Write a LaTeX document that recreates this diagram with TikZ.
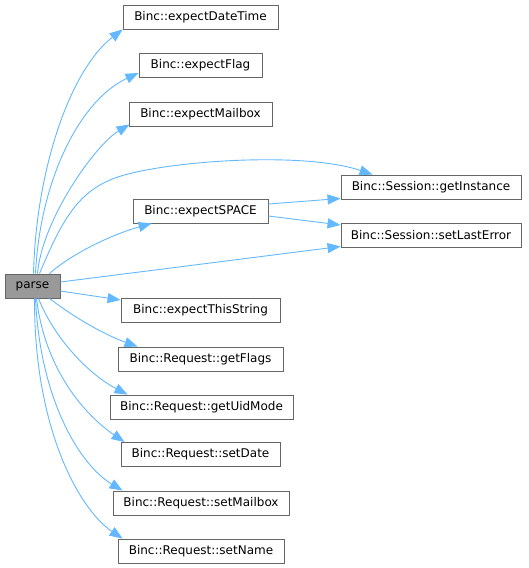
\documentclass[tikz,border=0pt]{standalone}
\usepackage{fontspec}
\setmainfont{DejaVu Sans}
\usetikzlibrary{arrows.meta,calc}
\definecolor{edgeblue}{HTML}{63B8FF}
\definecolor{boxborder}{HTML}{666666}
\definecolor{parsefill}{HTML}{999999}
\begin{document}
\begin{tikzpicture}[x=1pt,y=-1pt,
  fnbox/.style={draw=boxborder, line width=0.9pt, fill=white, inner sep=0pt,
    minimum height=24pt, font=\fontsize{12}{14}\selectfont, text=black},
  call/.style={draw=edgeblue, line width=0.9pt, -{Triangle[length=13pt,width=10pt]}, fill=none}
]
\useasboundingbox (0,0) rectangle (529,568);

\node[fnbox, fill=parsefill, minimum width=55pt] (parse) at (32.5,286) {parse};
\node[fnbox, minimum width=155pt] (edt) at (200.5,17) {Binc::expectDateTime};
\node[fnbox, minimum width=123pt] (flag) at (200.5,65) {Binc::expectFlag};
\node[fnbox, minimum width=143pt] (mbx) at (200.5,114) {Binc::expectMailbox};
\node[fnbox, minimum width=135pt] (esp) at (200.5,211) {Binc::expectSPACE};
\node[fnbox, minimum width=180pt] (gi) at (431,187) {Binc::Session::getInstance};
\node[fnbox, minimum width=180pt] (sle) at (431,235) {Binc::Session::setLastError};
\node[fnbox, minimum width=159pt] (ets) at (200.5,310) {Binc::expectThisString};
\node[fnbox, minimum width=165pt] (gf) at (200.5,359) {Binc::Request::getFlags};
\node[fnbox, minimum width=183pt] (gu) at (201.5,407) {Binc::Request::getUidMode};
\node[fnbox, minimum width=159pt] (sd) at (200.5,454.5) {Binc::Request::setDate};
\node[fnbox, minimum width=176pt] (sm) at (201,503) {Binc::Request::setMailbox};
\node[fnbox, minimum width=166pt] (sn) at (201,551) {Binc::Request::setName};

% upward calls
\draw[call] ($(parse.north)+(1,0)$) .. controls (36,170) and (70,70) .. (edt.south west);
\draw[call] ($(parse.north)+(3,0)$) .. controls (40,180) and (80,100) .. ($(flag.west)+(0,8)$);
\draw[call] ($(parse.north)+(5,0)$) .. controls (42,220) and (95,145) .. ($(mbx.south west)+(1,-2)$);
\draw[call] ($(parse.north)+(7,0)$) .. controls (60,225) and (75,195) .. (110,180)
  .. controls (150,162) and (300,150) .. ($(gi.north west)+(32,0)$);
\draw[call] ($(parse.north)+(17,0)$) .. controls (70,255) and (110,235) .. ($(esp.south west)+(19,0)$);
\draw[call] ($(parse.east)+(0,-4)$) -- ($(sle.south west)+(0,-1)$);

% expectSPACE calls
\draw[call] ($(esp.east)+(0,-7)$) -- ($(gi.south west)+(0,-1)$);
\draw[call] ($(esp.east)+(0,5)$) -- ($(sle.west)+(0,-10)$);

% downward calls
\draw[call] ($(parse.east)+(0,5)$) -- ($(ets.west)+(0,-10)$);
\draw[call] ($(parse.south)+(17,0)$) .. controls (75,318) and (105,335) .. ($(gf.north west)+(20,0)$);
\draw[call] ($(parse.south)+(6,0)$) .. controls (55,340) and (90,375) .. ($(gu.north west)+(18,0)$);
\draw[call] ($(parse.south)+(4,0)$) .. controls (45,370) and (85,415) .. ($(sd.north west)+(4,0)$);
\draw[call] ($(parse.south)+(3,0)$) .. controls (40,400) and (80,465) .. ($(sm.north west)+(10,0)$);
\draw[call] ($(parse.south)+(2,0)$) .. controls (34,430) and (80,510) .. ($(sn.north west)+(5,0)$);
\end{tikzpicture}
\end{document}
